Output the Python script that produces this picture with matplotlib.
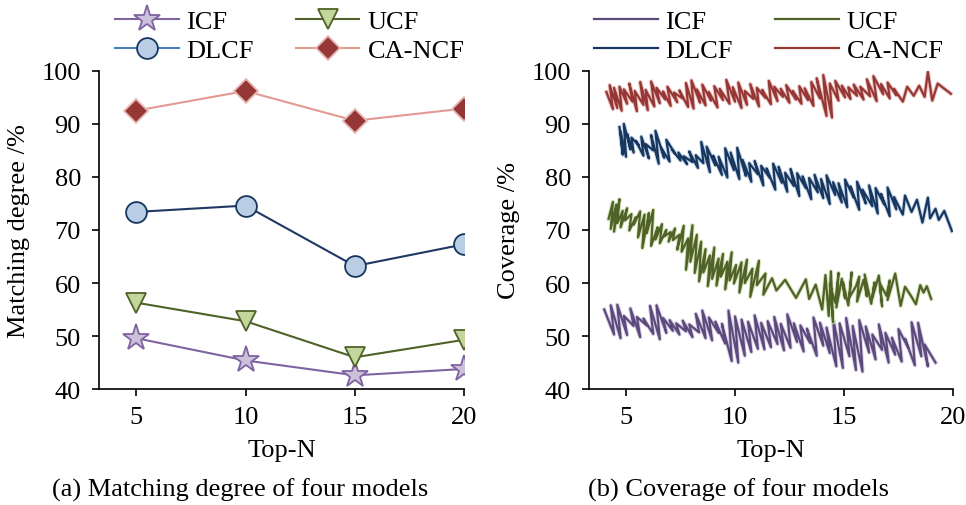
import matplotlib

matplotlib.use("Agg")
import matplotlib.pyplot as plt
import matplotlib.patheffects as pe
from matplotlib.lines import Line2D

plt.rcParams["font.family"] = ["Liberation Serif", "DejaVu Serif"]
FS = 19

models = ["ICF", "UCF", "DLCF", "CA-NCF"]

# (a) matching degree
top_n = [5, 10, 15, 20]
match_icf = [49.6, 45.4, 42.6, 43.8]
match_ucf = [56.3, 52.8, 46.0, 49.3]
match_dlcf = [73.4, 74.6, 63.2, 67.3]
match_cancf = [92.5, 96.2, 90.6, 92.9]

# (b) coverage
cov_icf_x = [4.00, 4.45, 4.30, 4.75, 4.60, 5.05, 4.90, 5.35, 5.20, 5.65,
             5.50, 5.95, 5.80, 6.25, 6.10, 6.55, 6.40, 6.85, 6.70, 7.15,
             7.00, 7.45, 7.30, 7.75, 7.60, 8.05, 7.90, 8.35, 8.20, 8.65,
             8.50, 8.95, 8.80, 9.25, 9.10, 9.55, 9.40, 9.85, 9.70, 10.15,
             10.00, 10.45, 10.30, 10.75, 10.60, 11.05, 10.90, 11.35, 11.20, 11.65,
             11.50, 11.95, 11.80, 12.25, 12.10, 12.55, 12.40, 12.85, 12.70, 13.15,
             13.00, 13.45, 13.30, 13.75, 13.60, 14.05, 13.90, 14.35, 14.20, 14.65,
             14.50, 14.95, 14.80, 15.25, 15.10, 15.55, 15.40, 15.85, 15.70, 16.15,
             16.00, 16.45, 16.30, 16.75, 16.60, 17.05, 16.90, 17.35, 17.20, 17.65,
             17.50, 17.95, 17.80, 18.25, 18.10, 18.55, 18.40, 18.85, 18.70, 19.20]
cov_icf_y = [55.0, 50.3, 55.8, 49.6, 55.9, 50.2, 53.8, 51.9, 55.2, 49.8,
             53.6, 52.0, 53.3, 50.4, 55.7, 49.4, 55.8, 50.6, 53.4, 51.0,
             53.0, 50.3, 52.4, 50.9, 52.9, 49.8, 52.2, 50.7, 54.2, 49.6,
             54.8, 49.2, 53.5, 50.6, 52.7, 48.6, 52.3, 45.3, 54.8, 45.0,
             53.7, 46.3, 53.1, 47.0, 52.7, 47.6, 53.9, 47.5, 52.5, 47.9,
             52.8, 48.5, 53.6, 47.3, 52.3, 47.8, 54.1, 48.9, 52.4, 47.1,
             52.0, 48.7, 51.4, 46.3, 53.5, 48.2, 52.5, 46.8, 51.6, 44.3,
             53.3, 44.0, 52.4, 46.2, 53.4, 43.6, 51.9, 43.3, 53.0, 46.9,
             51.8, 45.6, 50.3, 47.4, 52.2, 45.0, 50.6, 46.5, 49.7, 45.2,
             51.3, 47.8, 49.5, 44.5, 52.6, 46.2, 52.5, 44.3, 48.4, 45.0]

cov_ucf_x = [4.20, 4.40, 4.30, 4.55, 4.45, 4.70, 4.60, 4.85, 4.75, 5.05,
             4.95, 5.25, 5.15, 5.45, 5.35, 5.65, 5.55, 5.85, 5.75, 6.05,
             5.95, 6.25, 6.15, 6.45, 6.35, 6.65, 6.55, 6.85, 6.75, 7.05,
             6.95, 7.25, 7.15, 7.45, 7.35, 7.65, 7.55, 7.85, 7.75, 8.05,
             7.95, 8.25, 8.15, 8.45, 8.35, 8.65, 8.55, 8.85, 8.75, 9.05,
             8.95, 9.25, 9.15, 9.45, 9.35, 9.65, 9.55, 9.85, 9.75, 10.05,
             9.95, 10.30, 10.20, 10.55, 10.45, 10.80, 10.70, 11.10, 11.00, 11.40,
             11.30, 11.70, 11.90, 12.30, 12.80, 13.25, 13.40, 13.70, 14.00, 14.15,
             14.30, 14.40, 14.50, 14.35, 14.60, 14.75, 14.65, 14.90, 15.05, 14.95,
             15.20, 15.35, 15.25, 15.55, 15.70, 15.60, 15.90, 16.05, 15.95, 16.25,
             16.40, 16.30, 16.60, 16.75, 16.65, 16.95, 17.10, 17.00, 17.35, 17.60,
             17.80, 18.10, 18.30, 18.50, 18.65, 18.80, 19.00]
cov_ucf_y = [72.1, 75.3, 70.2, 74.8, 69.7, 75.8, 71.3, 73.6, 70.5, 74.1,
             71.8, 73.0, 69.9, 72.4, 71.0, 73.5, 68.6, 72.9, 66.6, 73.2,
             69.4, 73.8, 67.0, 70.5, 68.2, 71.1, 67.5, 70.0, 68.8, 69.6,
             67.8, 70.3, 68.1, 69.1, 66.3, 70.8, 65.9, 68.4, 62.5, 70.9,
             64.0, 69.1, 61.9, 67.8, 60.3, 66.4, 62.0, 65.2, 59.4, 66.7,
             60.8, 64.6, 59.5, 65.5, 61.2, 64.0, 58.8, 65.8, 60.5, 63.4,
             59.9, 63.9, 58.2, 64.4, 60.0, 62.7, 57.4, 64.2, 59.6, 61.8,
             57.8, 60.9, 58.6, 60.6, 57.2, 60.7, 57.0, 59.7, 55.0, 61.5,
             53.8, 62.2, 52.6, 59.8, 56.3, 61.9, 55.4, 60.8, 57.1, 60.2,
             55.8, 62.0, 57.3, 59.4, 61.2, 56.5, 60.6, 57.5, 61.6, 56.1,
             60.1, 57.2, 61.4, 55.6, 59.9, 57.6, 60.5, 56.8, 61.8, 55.7,
             59.3, 57.4, 56.0, 59.6, 58.2, 59.4, 57.0]

cov_dlcf_x = [4.70, 4.85, 4.75, 5.00, 4.90, 5.20, 5.05, 5.35, 5.25, 5.60,
              5.45, 5.80, 5.70, 6.05, 5.90, 6.25, 6.15, 6.50, 6.35, 6.75,
              6.60, 7.00, 6.85, 7.25, 7.10, 7.50, 7.40, 7.80, 7.65, 8.05,
              7.90, 8.30, 8.20, 8.55, 8.45, 8.85, 8.70, 9.10, 9.00, 9.40,
              9.25, 9.65, 9.55, 9.95, 9.80, 10.20, 10.10, 10.50, 10.35, 10.75,
              10.65, 11.05, 10.90, 11.30, 11.20, 11.60, 11.45, 11.85, 11.75, 12.15,
              12.00, 12.40, 12.30, 12.70, 12.55, 12.95, 12.85, 13.25, 13.10, 13.50,
              13.40, 13.80, 13.65, 14.05, 13.95, 14.35, 14.20, 14.60, 14.50, 14.90,
              14.75, 15.15, 15.05, 15.45, 15.30, 15.70, 15.60, 16.00, 15.85, 16.30,
              16.15, 16.55, 16.45, 16.85, 16.70, 17.10, 17.00, 17.40, 17.30, 17.70,
              17.80, 18.10, 18.35, 18.60, 18.85, 18.95, 19.20, 19.35, 19.60, 19.95]
cov_dlcf_y = [89.4, 84.2, 88.6, 83.8, 90.0, 85.2, 88.1, 84.6, 87.4, 85.9,
              86.8, 84.0, 87.6, 83.5, 86.2, 85.0, 87.9, 82.5, 88.7, 83.6,
              85.6, 82.9, 87.0, 84.4, 85.2, 83.1, 84.6, 82.4, 83.9, 82.8,
              84.8, 81.7, 84.1, 82.6, 86.6, 80.9, 85.7, 82.2, 84.0, 80.4,
              83.8, 79.9, 85.4, 81.3, 84.6, 79.6, 85.5, 80.2, 83.2, 79.1,
              82.6, 80.5, 83.0, 78.4, 82.1, 79.8, 81.6, 77.6, 82.5, 78.9,
              81.9, 77.2, 80.8, 78.3, 81.5, 76.4, 80.7, 77.9, 80.1, 75.8,
              79.8, 77.1, 80.4, 76.0, 79.6, 74.9, 80.3, 76.6, 79.0, 75.2,
              78.8, 74.3, 79.5, 76.1, 78.2, 73.8, 79.1, 75.0, 77.6, 74.5,
              78.4, 73.1, 77.9, 74.8, 76.8, 72.6, 78.0, 73.9, 76.2, 72.9,
              76.5, 73.4, 75.7, 71.4, 76.1, 72.2, 74.0, 71.9, 73.6, 69.8]

cov_cancf_x = [4.10, 4.40, 4.25, 4.60, 4.45, 4.80, 4.70, 5.05, 4.90, 5.30,
               5.15, 5.50, 5.40, 5.80, 5.65, 6.00, 5.90, 6.30, 6.15, 6.55,
               6.40, 6.80, 6.70, 7.05, 6.90, 7.35, 7.20, 7.60, 7.45, 7.85,
               7.75, 8.10, 8.00, 8.40, 8.25, 8.65, 8.50, 8.90, 8.80, 9.20,
               9.05, 9.45, 9.30, 9.75, 9.60, 10.00, 9.90, 10.30, 10.15, 10.55,
               10.45, 10.85, 10.70, 11.10, 11.00, 11.40, 11.25, 11.65, 11.55, 11.95,
               11.80, 12.20, 12.10, 12.50, 12.35, 12.80, 12.65, 13.05, 12.95, 13.35,
               13.20, 13.60, 13.50, 13.90, 13.75, 14.20, 14.05, 14.45, 14.35, 14.75,
               14.60, 15.05, 14.90, 15.30, 15.20, 15.60, 15.45, 15.90, 15.75, 16.20,
               16.05, 16.50, 16.35, 16.80, 16.70, 17.10, 17.00, 17.40, 17.30, 17.70,
               17.90, 18.20, 18.45, 18.70, 18.85, 19.05, 19.30, 19.55, 19.90]
cov_cancf_y = [96.0, 92.8, 97.3, 93.0, 96.8, 92.5, 97.0, 93.8, 96.5, 94.2,
               97.6, 92.4, 96.2, 93.6, 97.9, 92.6, 96.4, 93.3, 98.0, 93.9,
               96.8, 94.6, 96.1, 93.4, 97.0, 94.1, 95.9, 94.8, 96.3, 93.2,
               97.7, 92.9, 98.2, 94.0, 96.5, 93.5, 97.4, 94.4, 96.0, 93.1,
               97.1, 94.5, 96.6, 93.8, 98.3, 94.2, 96.9, 93.0, 97.8, 93.6,
               96.2, 94.7, 97.5, 93.3, 96.8, 94.9, 96.4, 93.7, 98.1, 94.3,
               97.0, 95.1, 96.6, 94.0, 97.3, 94.6, 96.2, 93.8, 97.1, 94.5,
               96.7, 93.4, 97.9, 94.8, 98.6, 91.5, 99.2, 91.2, 97.6, 94.4,
               98.1, 95.0, 97.2, 94.7, 96.9, 95.3, 97.4, 94.6, 97.0, 95.2,
               98.4, 94.3, 99.0, 95.6, 97.5, 94.8, 97.8, 95.4, 96.6, 94.2,
               97.0, 95.3, 97.2, 95.1, 99.8, 94.4, 97.6, 96.8, 95.7]

fig = plt.figure(figsize=(9.66, 5.06), dpi=100)
ax1 = fig.add_axes([0.1025, 0.229, 0.378, 0.629])
ax2 = fig.add_axes([0.6097, 0.229, 0.3768, 0.629])

# left: marker lines
styles_a = [
    (match_icf, "#8064A2", "*", 20, "#CCC1DA", "#8064A2", "#8064A2"),
    (match_ucf, "#4F6228", "v", 14, "#C3D69B", "#4F6228", "#4F6228"),
    (match_dlcf, "#1F3864", "o", 15, "#B9CDE5", "#17375E", "#4A7EBB"),
    (match_cancf, "#E29A92", "D", 12, "#953735", "#E6B9B8", "#E29A92"),
]
handles_a = {}
for (vals, lc, mk, ms, fc, ec, legc), name in zip(styles_a, models):
    ax1.plot(top_n, vals, color=lc, lw=1.5, marker=mk, ms=ms, mfc=fc, mec=ec, mew=1.3, zorder=3)
    handles_a[name] = Line2D([], [], color=legc, lw=1.5, marker=mk, ms=ms, mfc=fc, mec=ec, mew=1.3)

# right: noisy coverage traces with a pale halo
series_b = [
    (cov_icf_x, cov_icf_y, "#5B4A7B", "#D9D1E6"),
    (cov_ucf_x, cov_ucf_y, "#4F6228", "#D7E4BD"),
    (cov_dlcf_x, cov_dlcf_y, "#17375E", "#C6D5EA"),
    (cov_cancf_x, cov_cancf_y, "#953735", "#EBC4C2"),
]
handles_b = {}
for (xs, ys, c, halo), name in zip(series_b, models):
    ax2.plot(xs, ys, color=c, lw=1.6,
             path_effects=[pe.Stroke(linewidth=3.0, foreground=halo), pe.Normal()])
    handles_b[name] = Line2D([], [], color=c, lw=1.6)

for ax, ylab in [(ax1, "Matching degree /%"), (ax2, "Coverage /%")]:
    ax.set_xlim(3.3, 20)
    ax.set_ylim(40, 100)
    ax.set_xticks([5, 10, 15, 20])
    ax.set_yticks([40, 50, 60, 70, 80, 90, 100])
    ax.spines[["top", "right"]].set_visible(False)
    ax.spines[["left", "bottom"]].set_linewidth(1.2)
    ax.tick_params(direction="out", length=5, width=1.2, labelsize=FS)
    ax.tick_params(axis="y", pad=8)
    ax.tick_params(axis="x", pad=7)
    ax.set_xlabel("Top-N", fontsize=FS, labelpad=8)
    ax.set_ylabel(ylab, fontsize=FS, labelpad=8)

# column-wise fill, so rows read ICF/UCF then DLCF/CA-NCF
order = ["ICF", "DLCF", "UCF", "CA-NCF"]
leg_kw = dict(ncol=2, frameon=False, fontsize=FS, handlelength=2.4, handletextpad=0.3,
              columnspacing=1.6, labelspacing=0.22, loc="upper center",
              bbox_transform=fig.transFigure, borderaxespad=0)
ax1.legend([handles_a[k] for k in order], order, bbox_to_anchor=(0.30, 1.0), **leg_kw)
ax2.legend([handles_b[k] for k in order], order, bbox_to_anchor=(0.796, 1.0), **leg_kw)

fig.text(0.249, 0.032, "(a) Matching degree of four models", ha="center", va="center", fontsize=FS)
fig.text(0.764, 0.032, "(b) Coverage of four models", ha="center", va="center", fontsize=FS)

fig.savefig("out.png", dpi=100)
